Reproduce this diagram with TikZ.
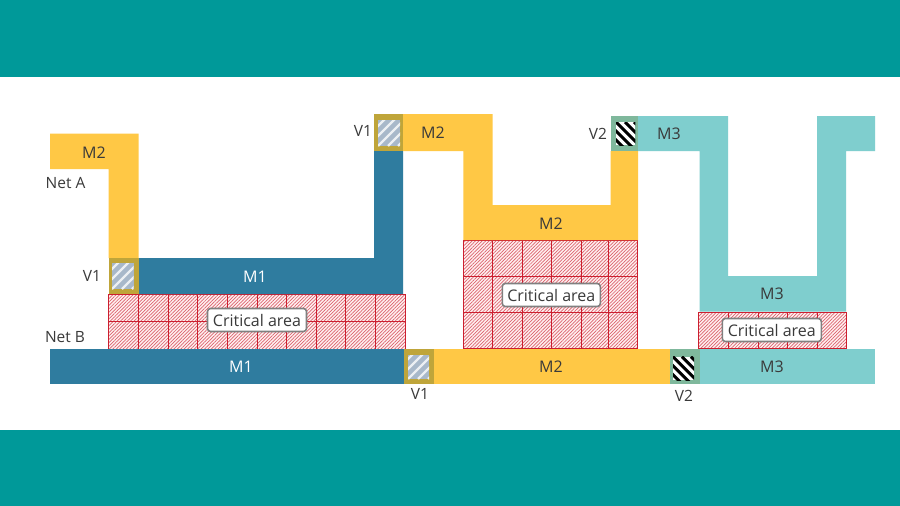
\documentclass[tikz,border=0pt]{standalone}
\usepackage{fontspec}
\setmainfont{Open Sans}
\usetikzlibrary{patterns.meta}
\definecolor{band}{HTML}{009999}
\definecolor{mtwo}{HTML}{FFC845}
\definecolor{mone}{HTML}{2F7C9F}
\definecolor{mthree}{HTML}{7FCECE}
\definecolor{frameone}{HTML}{BFA53A}
\definecolor{frametwo}{HTML}{7FB89C}
\definecolor{viafill}{HTML}{A8B8CA}
\definecolor{gridred}{HTML}{CC1F2F}
\definecolor{ink}{HTML}{3A3A3A}
\tikzset{
  metaltext/.style={font=\fontsize{16}{18}\selectfont,text=#1,inner sep=0pt},
  metaltext/.default=ink,
  plainlabel/.style={font=\fontsize{15.5}{18}\selectfont,text=ink,inner sep=0pt},
  hatcharea/.style={fill=red!6,postaction={pattern={Lines[angle=45,distance=2.4pt,line width=.7pt]},pattern color=gridred!70}},
  areaframe/.style={draw=gridred,line width=.9pt},
  areagrid/.style={draw=gridred,line width=.8pt},
  arealabel/.style={draw=black!50,line width=1.6pt,fill=white,rounded corners=3pt,inner sep=0pt,
    font=\fontsize{16}{18}\selectfont,text=ink},
}
% via core with rising pale stripes: lower-left and upper-right corners (y grows downwards)
\newcommand{\viaone}[4]{%
  \fill[viafill] (#1,#2) rectangle (#3,#4);
  \begin{scope}
    \clip (#1,#2) rectangle (#3,#4);
    \foreach \d in {-40,-30,...,40}
      \draw[white!78!viafill,line width=2.4pt] (#1+\d,#4) -- ++(50,-50);
  \end{scope}}
% via core with falling black stripes on white
\newcommand{\viatwo}[4]{%
  \fill[white] (#1,#2) rectangle (#3,#4);
  \begin{scope}
    \clip (#1,#2) rectangle (#3,#4);
    \foreach \d in {-36,-27,...,36}
      \draw[black,line width=3pt] (#1+\d,#2) -- ++(50,50);
  \end{scope}}
\begin{document}
\begin{tikzpicture}[x=1pt,y=-1pt]
\useasboundingbox (0,0) rectangle (900,506);
\fill[white] (0,0) rectangle (900,506);
% top and bottom bands
\fill[band] (0,0) rectangle (900,77);
\fill[band] (0,430) rectangle (900,506);

% critical areas, underneath the wires
\fill[hatcharea] (108.5,294) rectangle (405,349);
\fill[hatcharea] (463,240) rectangle (637,348);
\fill[hatcharea] (698.5,312) rectangle (846,348);
\foreach \x in {138.5,168,197.5,227,257,286,316,345,375}
  \draw[areagrid] (\x,294) -- (\x,349);
\draw[areagrid] (108.5,321) -- (405,321);
\foreach \x in {492.7,522,551.7,581,608}
  \draw[areagrid] (\x,240) -- (\x,348);
\draw[areagrid] (463,276.7) -- (637,276.7);
\draw[areagrid] (463,312) -- (637,312);
\foreach \x in {728,758,787.7,817}
  \draw[areagrid] (\x,312) -- (\x,348);
\draw[areaframe] (108.5,294) rectangle (405,349);
\draw[areaframe] (463,240) rectangle (637,348);
\draw[areaframe] (698.5,312) rectangle (846,348);

% net A, metal 2 stub
\fill[mtwo] (50,133.5) -- (138.7,133.5) -- (138.7,258) -- (108.5,258) -- (108.5,169) -- (50,169) -- cycle;
% net A, metal 1
\fill[mone] (138.7,258) -- (374,258) -- (374,151) -- (403,151) -- (403,294) -- (138.7,294) -- cycle;
% net A, metal 2 meander
\fill[mtwo] (403,114) -- (492.7,114) -- (492.7,205) -- (610.7,205) -- (610.7,151) -- (638,151)
  -- (638,240) -- (463.3,240) -- (463.3,151) -- (403,151) -- cycle;
% net A, metal 3 meander
\fill[mthree] (638,116) -- (728,116) -- (728,276) -- (817,276) -- (817,116) -- (875,116) -- (875,151)
  -- (846,151) -- (846,311.7) -- (699.7,311.7) -- (699.7,151) -- (638,151) -- cycle;
% net B
\fill[mone] (50,349) rectangle (403.5,384);
\fill[mtwo] (433.5,349) rectangle (670,384);
\fill[mthree] (699.5,349) rectangle (875,384);

% vias
\fill[frameone] (108.5,258) rectangle (138.7,294);
\viaone{112}{263}{133.5}{289}
\fill[frameone] (374,114) rectangle (403,151);
\viaone{378}{120}{400}{146}
\fill[frameone] (403.5,349) rectangle (433.5,384);
\viaone{408}{355}{429}{379}
\fill[frametwo] (610.7,115.7) rectangle (638,151);
\viatwo{616}{122}{635.3}{145}
\fill[frametwo] (670,349) rectangle (699.5,384);
\viatwo{673}{356.7}{694}{380}

% area captions
\node[arealabel,minimum width=99pt,minimum height=23pt] (capa) at (257,320) {Critical area};
\node[arealabel,minimum width=98pt,minimum height=23pt] (capb) at (551.3,295) {Critical area};
\node[arealabel,minimum width=99pt,minimum height=23pt] (capc) at (771.8,330) {Critical area};

% wire names
\node[metaltext] (ma) at (94,153) {M2};
\node[metaltext=white] (mb) at (255,277) {M1};
\node[metaltext=white] (mc) at (241,367) {M1};
\node[metaltext] (md) at (433,133) {M2};
\node[metaltext] (me) at (551,224) {M2};
\node[metaltext] (mf) at (551,367) {M2};
\node[metaltext] (mg) at (669,134) {M3};
\node[metaltext] (mh) at (772,294) {M3};
\node[metaltext] (mi) at (772,367) {M3};

% net and via names
\node[plainlabel] (neta) at (65.5,183) {Net A};
\node[plainlabel] (netb) at (65,337) {Net B};
\node[plainlabel] (va) at (92,276) {V1};
\node[plainlabel] (vb) at (363,131) {V1};
\node[plainlabel] (vc) at (420,394) {V1};
\node[plainlabel] (vd) at (598,134) {V2};
\node[plainlabel] (ve) at (684,396) {V2};
\end{tikzpicture}
\end{document}
